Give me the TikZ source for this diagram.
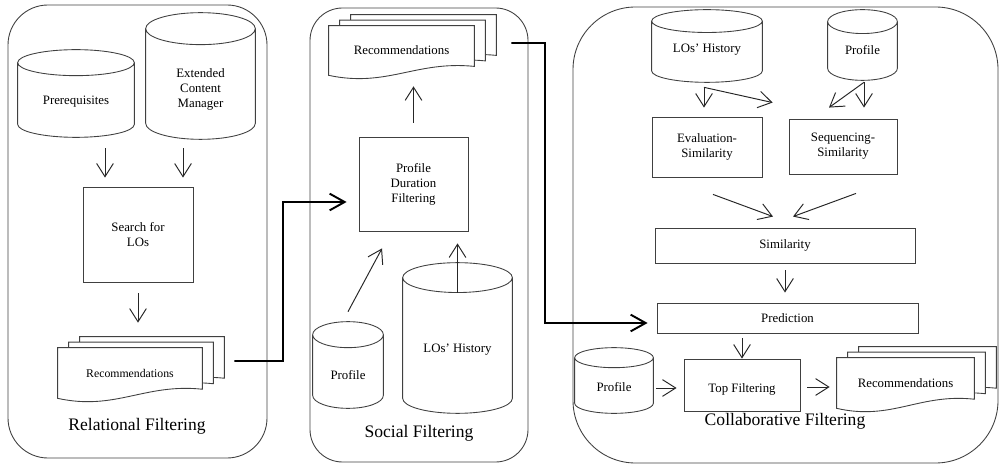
\documentclass[tikz,border=0pt]{standalone}
\usepackage{fontspec}
\setmainfont{Liberation Serif}
\usetikzlibrary{positioning,arrows.meta,calc}
\pgfdeclarelayer{bg}
\pgfsetlayers{bg,main}
\newcommand{\shiftdown}[2]{\raisebox{-#1}[\height][\depth]{#2}}
% cylinder outline round a named node, #2 = half height of the end ellipse
\newcommand{\dbshape}[2]{%
  \begin{pgfonlayer}{bg}
    \draw[outline] let \p1=(#1.north west), \p2=(#1.south east),
          \n1={(\x2-\x1)/2}, \n2={#2} in
      ({(\x1+\x2)/2},{\y1-\n2}) ellipse [x radius=\n1, y radius=\n2]
      (\x1,{\y1-\n2}) -- (\x1,{\y2+\n2})
      arc [start angle=180, end angle=360, x radius=\n1, y radius=\n2]
      -- (\x2,{\y1-\n2});
  \end{pgfonlayer}}
% three pages with a wavy lower edge, front page = the node
\newcommand{\docstack}[1]{%
  \begin{pgfonlayer}{bg}
    \foreach \k in {2,1,0}{
      \draw[outline, fill=white] let \p1=(#1.north west), \p2=(#1.south east),
            \n1={\x2-\x1}, \n2={\y1-\y2}, \n3={\k*6.26pt}, \n4={\k*3.13pt} in
        ({\x1+\n3},{\y1+\n4}) -- ({\x2+\n3},{\y1+\n4}) -- ({\x2+\n3},{\y1+\n4-0.82*\n2})
        .. controls ({\x1+\n3+0.6*\n1},{\y1+\n4-0.7*\n2}) and ({\x1+\n3+0.4*\n1},{\y1+\n4-1.25*\n2})
        .. ({\x1+\n3},{\y2+\n4}) -- cycle;
    }
  \end{pgfonlayer}}

\begin{document}
\begin{tikzpicture}[x=0.02cm, y=-0.02cm,
    outline/.style={draw=black!75, line width=0.5pt},
    proc/.style={outline, align=center, inner sep=1pt, font=\fontsize{7.3}{8.6}\selectfont},
    db/.style={align=center, inner sep=0pt, font=\fontsize{7.3}{8.6}\selectfont},
    doc/.style={align=center, inner sep=0pt, font=\fontsize{7.3}{8.6}\selectfont},
    title/.style={font=\fontsize{10}{12}\selectfont},
    arr/.style={-{Straight Barb[length=7.5pt,width=9.5pt]}, line width=0.55pt, black!85},
    link/.style={-{Straight Barb[length=8.5pt,width=9.5pt]}, line width=1.1pt}
  ]
  \useasboundingbox (0,0) rectangle (999,465);

  % panels
  \draw[outline, rounded corners=0.8cm] (8,5) rectangle (267,458);
  \draw[outline, rounded corners=0.65cm] (310,8) rectangle (528,462);
  \draw[outline, rounded corners=1.25cm] (573,7) rectangle (998,463);

  % relational filtering
  \node[db, minimum width=2.32cm, minimum height=1.74cm] (pre) at (76,93.5) {\shiftdown{4.8pt}{Prerequisites}};
  \node[db, minimum width=2.18cm, minimum height=2.52cm] (ecm) at (200.5,76)
    {\shiftdown{7.6pt}{\begin{tabular}{@{}c@{}}Extended\\Content\\Manager\end{tabular}}};
  \node[proc, minimum width=2.2cm, minimum height=1.9cm] (srch) at (138,234.5) {Search for\\LOs};
  \node[doc, font=\fontsize{6.7}{8}\selectfont, minimum width=2.88cm, minimum height=1.0cm] (rec1) at (130,373) {Recommendations};
  \node[title] (tl1) at (137,426) {Relational Filtering};
  \dbshape{pre}{7.4pt}
  \dbshape{ecm}{9.1pt}
  \docstack{rec1}

  % social filtering
  \node[doc, minimum width=2.9cm, minimum height=0.98cm] (rec2) at (401.5,50.5) {Recommendations};
  \node[proc, minimum width=2.18cm, minimum height=1.88cm] (pdf) at (413.5,184) {Profile\\Duration\\Filtering};
  \node[db, minimum width=1.4cm, minimum height=1.72cm] (prof2) at (348,365) {\shiftdown{5.7pt}{Profile}};
  \node[db, minimum width=2.18cm, minimum height=3.0cm] (loh2) at (457.5,338) {\shiftdown{6.8pt}{LOs' History}};
  \node[title] (tl2) at (419,433) {Social Filtering};
  \docstack{rec2}
  \dbshape{prof2}{7.4pt}
  \dbshape{loh2}{8.5pt}

  % collaborative filtering
  \node[db, minimum width=2.2cm, minimum height=1.44cm] (loh3) at (707,46) {\shiftdown{2.3pt}{LOs' History}};
  \node[db, minimum width=1.38cm, minimum height=1.4cm] (prof3) at (862.5,45) {\shiftdown{2.8pt}{Profile}};
  \node[proc, minimum width=2.2cm, minimum height=1.2cm] (eval) at (707,147) {Evaluation-\\Similarity};
  \node[proc, minimum width=2.16cm, minimum height=1.1cm] (seq) at (843,146.5) {Sequencing-\\Similarity};
  \node[proc, minimum width=5.2cm, minimum height=0.7cm] (sim) at (785,245.5) {Similarity};
  \node[proc, minimum width=5.22cm, minimum height=0.6cm] (pred) at (787.5,318) {Prediction};
  \node[db, minimum width=1.56cm, minimum height=1.3cm] (prof4) at (614,380.5) {\shiftdown{3.7pt}{Profile}};
  \node[proc, minimum width=2.32cm, minimum height=1.04cm] (topf) at (742,385) {\shiftdown{2.8pt}{Top Filtering}};
  \node[doc, minimum width=2.74cm, minimum height=1.0cm] (rec3) at (905.5,383) {Recommendations};
  \node[title] (tl3) at (785,421) {Collaborative Filtering};
  \dbshape{loh3}{6.5pt}
  \dbshape{prof3}{6.8pt}
  \dbshape{prof4}{5.7pt}
  \docstack{rec3}

  % arrows, relational
  \coordinate (p1) at ([xshift=0.58cm]pre.south);
  \coordinate (p2) at ([xshift=-0.35cm]ecm.south);
  \draw[arr, shorten <=0.22cm, shorten >=0.18cm] (p1) -- (p1 |- srch.north);
  \draw[arr, shorten <=0.18cm, shorten >=0.18cm] (p2) -- (p2 |- srch.north);
  \draw[arr, shorten <=0.22cm, shorten >=0.5cm] (srch.south) -- (srch.south |- rec1.north);

  % relational -> social
  \coordinate (j1) at (283,202);
  \draw[link] ([xshift=0.64cm,yshift=0.24cm]rec1.east) -| (j1) -- ([xshift=-0.24cm,yshift=-0.36cm]pdf.west);

  % arrows, social
  \draw[arr, shorten <=0.28cm, shorten >=0.22cm] (pdf.north) -- (pdf.north |- rec2.south);
  \draw[arr] ([yshift=0.2cm]prof2.north) -- ([xshift=-0.63cm,yshift=-0.34cm]pdf.south);
  \coordinate (p3) at ([yshift=-0.6cm]loh2.north);
  \draw[arr, shorten >=0.24cm] (p3) -- (p3 |- pdf.south);

  % social -> collaborative
  \coordinate (j2) at (545,323);
  \draw[link] ([xshift=0.74cm,yshift=0.15cm]rec2.east) -| (j2) -- ([xshift=-0.18cm,yshift=-0.1cm]pred.west);

  % arrows, collaborative
  \coordinate (f1) at ([xshift=-0.06cm,yshift=-0.1cm]loh3.south);
  \coordinate (f2) at ([xshift=0.03cm,yshift=-0.04cm]prof3.south);
  \draw[arr, shorten >=0.18cm] (f1) -- (f1 |- eval.north);
  \draw[arr] (f1) -- ([xshift=-0.32cm,yshift=0.32cm]seq.north west);
  \draw[arr, shorten >=0.22cm] (f2) -- (f2 |- seq.north);
  \draw[arr] (f2) -- ([xshift=-0.28cm,yshift=0.22cm]seq.north);
  \draw[arr] ([xshift=0.12cm,yshift=-0.34cm]eval.south) -- ([xshift=-0.24cm,yshift=0.22cm]sim.north);
  \draw[arr] ([xshift=0.26cm,yshift=-0.38cm]seq.south) -- ([xshift=0.16cm,yshift=0.22cm]sim.north);
  \draw[arr, shorten <=0.14cm, shorten >=0.2cm] (sim.south) -- (sim.south |- pred.north);
  \draw[arr, shorten <=0.1cm] (pred.south -| topf.north) -- (topf.north);
  \coordinate (p4) at ([yshift=-0.15cm]prof4.east);
  \draw[arr, shorten <=0.06cm, shorten >=0.14cm] (p4) -- (p4 -| topf.west);
  \coordinate (p5) at ([yshift=-0.04cm]topf.east);
  \draw[arr, shorten <=0.14cm, shorten >=0.14cm] (p5) -- (p5 -| rec3.west);
\end{tikzpicture}
\end{document}
